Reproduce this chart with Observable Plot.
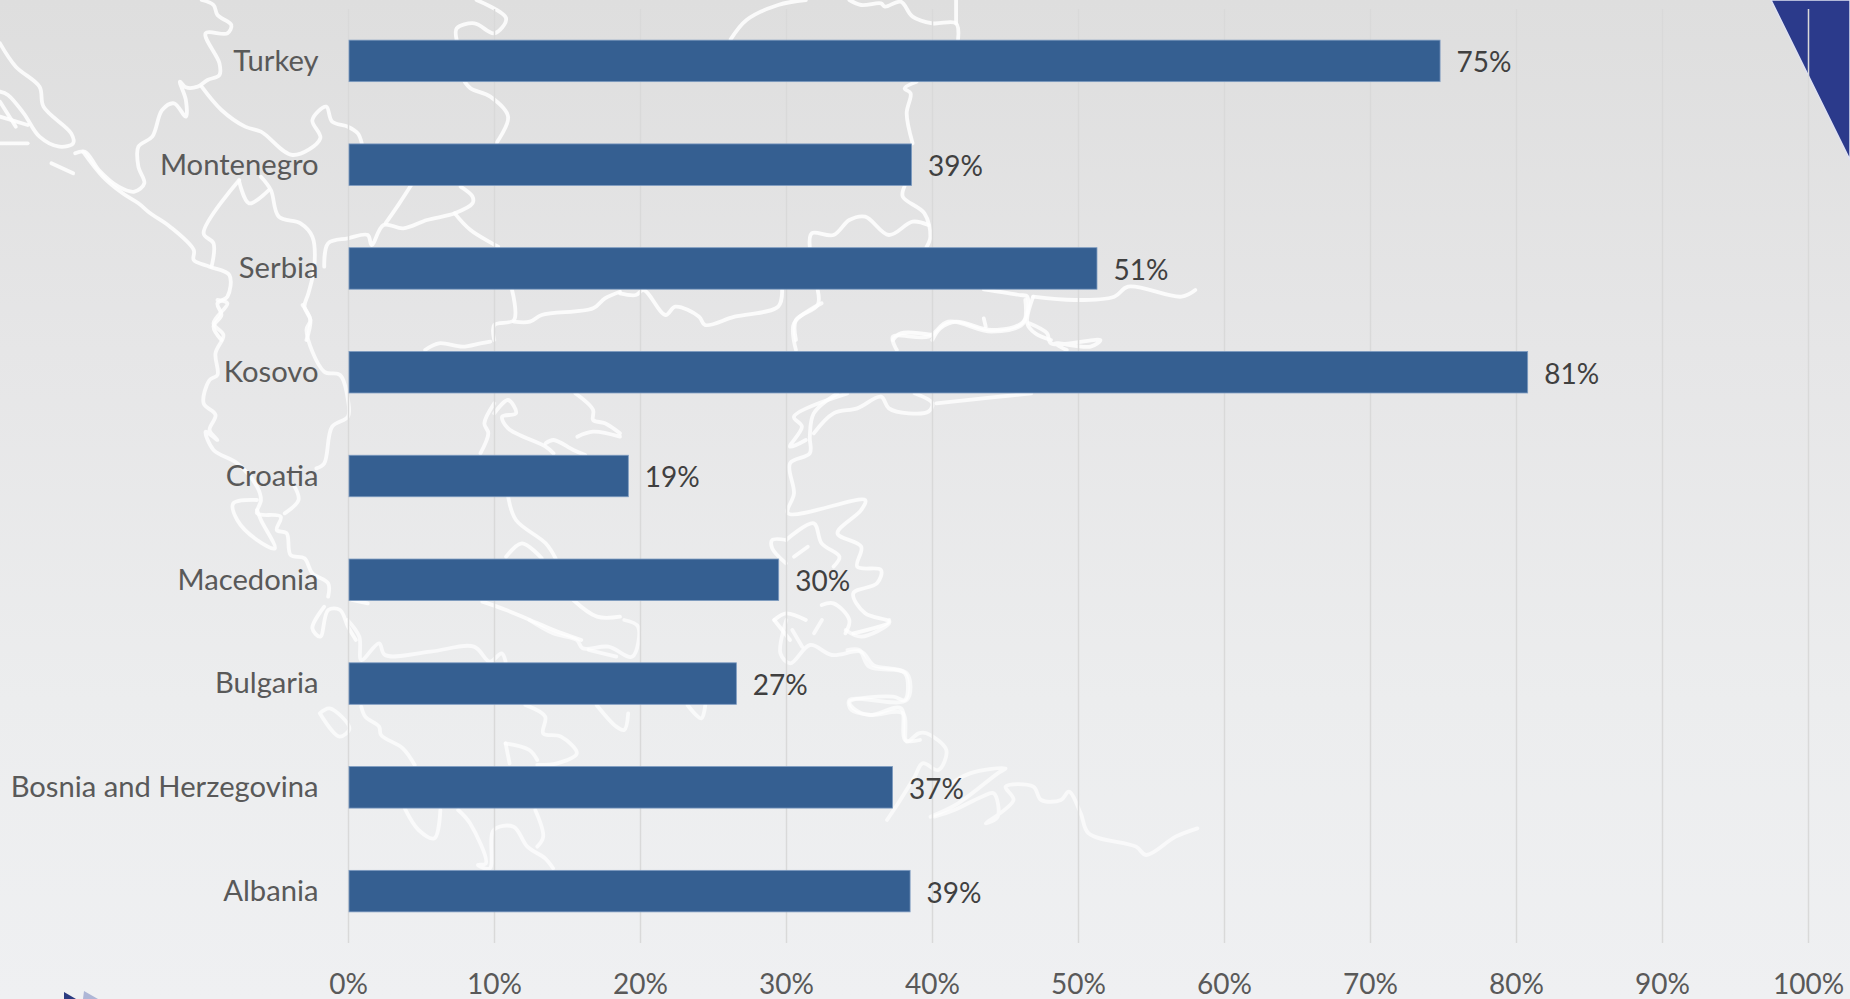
<!DOCTYPE html>
<html><head><meta charset="utf-8">
<script src="https://cdn.jsdelivr.net/npm/d3@7"></script>
<script src="https://cdn.jsdelivr.net/npm/@observablehq/plot@0.6"></script>
<style>
html,body{margin:0;padding:0;width:1850px;height:999px;overflow:hidden;background:linear-gradient(180deg,#dedede 0%,#e6e6e7 35%,#ecedee 70%,#eff0f2 100%);}
#bg,#chart{position:absolute;left:0;top:0;width:1850px;height:999px;}
#chart svg{background:transparent;display:block;}
</style></head><body>
<svg id="bg" width="1850" height="999" xmlns="http://www.w3.org/2000/svg"></svg>
<div id="chart"></div>
<script>
const countries = ["Turkey","Montenegro","Serbia","Kosovo","Croatia","Macedonia","Bulgaria","Bosnia and Herzegovina","Albania"];
const shares = [74.8,38.6,51.3,80.8,19.2,29.5,26.6,37.3,38.5];
const xTicks = [0,10,20,30,40,50,60,70,80,90,100];
const rows = countries.map((country,i)=>({country,share:shares[i]}));

// Decorative backdrop: the faint white map outline, traced per region of the picture
const mapTraces = [
 {o:[0,0],a:.85,p:[
 "510,0 540,15 550,45 585,75 575,100 520,100 555,190 555,225 525,240 500,260 470,262 455,245 470,300 470,350 440,310 410,330 385,410 350,440 350,500 365,550 340,575 300,560 250,510 215,455 190,460",
 "0,130 40,200 100,260 110,320 180,400 185,430 150,440 100,410 60,340 20,285 0,275",
 "510,260 560,330 620,380 660,395 740,465 810,415 790,360 825,320 840,365 880,380 905,400 915,430",
 "210,455 260,530 310,580 350,610 380,640 430,680 490,750 490,780 530,800 580,825 575,890 550,910 560,945 540,980 560,1020",
 "660,530 685,570 705,650 760,670 790,710 795,800 780,880 770,920 785,960 775,1020",
 "605,540 515,700 540,730 535,800","605,545 630,610 680,570",
 "820,800 830,730 880,715 930,705 940,735 970,675 1020,685 1080,660 1150,640 1195,610 1195,590 1165,560",
 "1150,640 1190,690 1260,740","975,670 1010,610 1040,555",
 "1205,0 1280,55 1250,100 1200,70 1155,85 1155,120","1175,245 1190,265 1240,290 1285,350 1255,430",
 "1295,870 1300,960 1250,975 1250,1020","1300,965 1340,965 1370,945 1500,925 1530,895 1568,875",
 "0,350 70,375","0,430 70,430","0,305 40,380","130,490 185,520"]},
 {o:[0,300],a:.8,p:[
 "550,0 575,10 540,70 565,105 545,160 550,225 530,240 515,310 545,345 530,390 550,420 520,395 540,450 600,490 650,560 660,600 650,640 710,650 700,690 725,700 735,765 770,775 790,820 830,850 830,890",
 "765,15 785,60 775,90 820,215 860,225 880,300 880,350 840,380 820,490 800,505",
 "650,600 590,610 600,660 650,720 695,745 660,660 650,630","745,560 755,600 720,640",
 "1075,150 1110,130 1170,140 1215,130 1240,125","1250,310 1225,370 1235,400 1215,460",
 "1250,340 1285,300 1305,340 1270,350 1285,385 1380,440 1400,460","1380,430 1400,420 1450,450 1480,465",
 "1460,410 1500,395 1568,410","1455,280 1500,330 1500,360 1530,370 1568,400",
 "1285,590 1305,660 1380,730 1405,775","1280,770 1320,730 1370,775","890,900 930,910",
 "1220,905 1280,930 1340,960 1400,990 1470,1020","1450,900 1510,950 1568,950",
 "820,920 790,985 810,1010 830,930 860,930 880,980 900,1020"]},
 {o:[300,620],a:.7,p:[
 "120,0 150,50 155,120 200,70 215,105 330,95 440,80 480,125 510,100 520,125",
 "580,0 640,40 700,60 715,85 780,80 840,110 855,20 820,0","730,90 800,110",
 "155,260 165,290 200,320 205,345 260,385 290,435","50,280 100,350 125,325 75,265 50,280",
 "570,255 620,290 615,340 660,350 700,400 650,430 600,435","520,370 530,430","520,370 580,390 600,420",
 "750,255 800,320 820,330 830,280","980,255 1015,295 1025,255",
 "265,565 300,630 340,655 355,570","400,570 430,610 470,730 450,735 480,745 490,630 540,620 575,680 620,715 640,745",
 "595,570 615,650 600,680",
 "1230,0 1215,100 1240,130 1290,75 1345,105 1420,95 1450,135 1530,160 1530,240 1500,230 1390,245 1400,265 1440,285 1520,265 1530,360 1568,360",
 "1245,30 1270,80","1300,40 1320,0","1380,30 1420,50 1490,10 1490,0"]},
 {o:[620,0],a:.85,p:[
 "280,118 320,60 400,15 470,0","580,0 610,15 660,10 670,20 710,5 740,50 790,70 850,70 855,118","850,70 850,0",
 "750,245 720,265 735,280 725,340 740,430","720,558 715,590 770,640 785,710 775,742",
 "480,742 485,700 540,705 580,660 620,650 680,705 740,665 780,675",
 "0,880 40,885 60,870 115,945 140,920 200,950 215,975 290,950 400,920 410,870",
 "500,870 500,915 445,960 445,1020",
 "920,868 1010,885 1030,890 1020,965 940,990 850,965 810,985 790,1020",
 "1045,890 1030,970 1050,1000 1090,1020","1045,890 1150,900 1250,890 1285,860 1420,890 1455,870",
 "920,955 925,980","690,1020 710,1000 790,1005"]},
 {o:[620,300],a:.8,p:[
 "700,150 690,110 780,110 830,65 940,95 1020,70 1025,0","1035,70 1080,100 1090,130 1215,120 1190,140 1100,130 1130,150",
 "445,150 440,70 510,10",
 "550,280 490,340 480,410 480,460 430,490 440,580 425,640 620,600 610,630 550,700 610,740 600,800 660,810 650,850 590,880 620,940 680,965 590,1000",
 "575,280 440,350 460,380 430,440 470,420",
 "490,400 540,340 600,325 660,290 680,325 730,340 780,335 790,310 745,280","800,310 960,290 1040,280",
 "420,720 490,670 510,730 555,770 540,800","420,720 385,720 385,745 420,790","440,770 475,740",
 "390,960 420,940 470,960","390,960 430,1020","510,915 540,910 580,960 570,1000"]},
 {o:[800,620],a:.65,p:[
 "120,90 150,90 175,140 270,160 270,240 125,240 130,270 180,285 260,280 270,365 300,340 320,340 370,390 350,450 310,430 290,470 240,565 220,600",
 "330,590 400,550 500,460 520,445 430,460 370,500",
 "340,590 390,570 460,530 490,520 500,590 470,610 540,540 520,500 590,500 610,540 660,540 680,515 710,580 730,640 850,680 875,705 950,650 1005,625"]}
];
const bg = d3.select("#bg");
const defs = bg.append("defs");
defs.append("filter").attr("id","soft").append("feGaussianBlur").attr("stdDeviation",0.7);
const mapG = bg.append("g").attr("filter","url(#soft)").attr("fill","none").attr("stroke","#fff").attr("stroke-width",3.8)
  .attr("stroke-linejoin","round").attr("stroke-linecap","round");
const sx = 620/1568, sy = 1/3;
for (const t of mapTraces) for (const line of t.p) {
  const pts = line.split(" ").map(s=>{const [a,b]=s.split(",").map(Number);return [t.o[0]+a*sx,t.o[1]+b*sy];});
  mapG.append("path").attr("d",d3.line().curve(d3.curveCatmullRom)(pts)).attr("stroke-opacity",t.a);
}
// corner triangle and the tip of the logo
bg.append("polygon").attr("points","1771,0 1850,0 1850,160").attr("fill","#2b3a8b").attr("stroke","#dfe2f2").attr("stroke-width",1.5);
const logo = bg.append("g").attr("filter","url(#soft)");
logo.append("polygon").attr("points","64,992 76,999 64,999").attr("fill","#2c3a80");
logo.append("polygon").attr("points","84,991 98,999 83,999").attr("fill","#aeb6d6");

const chart = Plot.plot({
  width:1850, height:999,
  marginLeft:348, marginRight:42, marginTop:9, marginBottom:56,
  style:{fontFamily:"Lato, Carlito, sans-serif",background:"transparent",overflow:"visible"},
  x:{domain:[0,100],ticks:xTicks,label:null,tickFormat:d=>d+"%"},
  y:{domain:countries,label:null,paddingInner:0.6,paddingOuter:0.3,align:0.5,round:false},
  marks:[
    Plot.gridX(xTicks,{stroke:"#d9d9d9",strokeOpacity:1,strokeWidth:1.5}),
    Plot.barX(rows,{y:"country",x:"share",fill:"#355f91",stroke:"#7d9bc0",strokeWidth:0.8,insetLeft:1}),
    Plot.text(rows,{y:"country",x:"share",text:d=>Math.round(d.share)+"%",textAnchor:"start",dx:16,dy:2,fontSize:28,fill:"#404040"}),
    Plot.axisX({ticks:xTicks,tickFormat:d=>d+"%",tickSize:0,tickPadding:31,fontSize:28,fill:"#595959",label:null}),
    Plot.axisY({tickSize:0,tickPadding:30,fontSize:29.2,fill:"#595959",label:null})
  ]
});
document.getElementById("chart").appendChild(chart);
</script>
</body></html>
